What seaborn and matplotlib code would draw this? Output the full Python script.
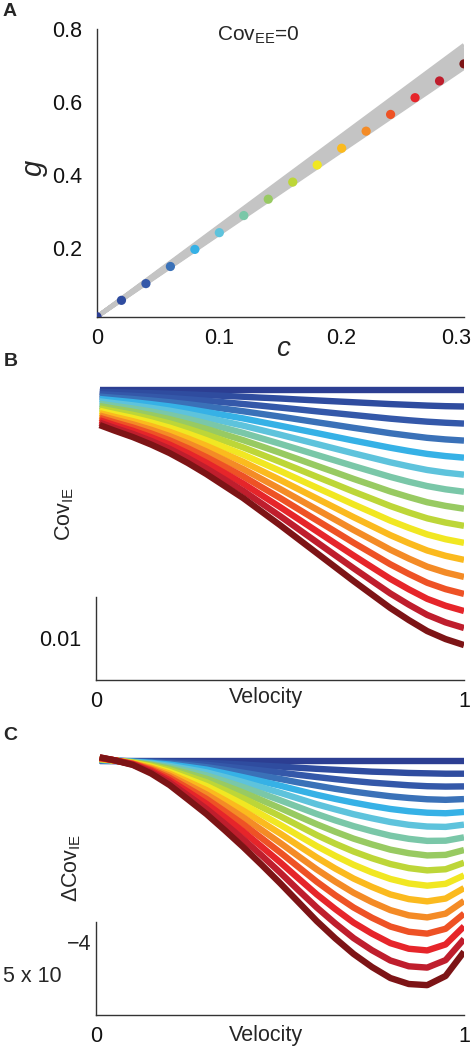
import numpy as np
import pandas as pd
import seaborn as sns
import matplotlib.pyplot as plt
import matplotlib.transforms as mtransforms

# ---- data ----
colors = ["#2c3e92", "#2f4c9f", "#3458a9", "#3a71b8", "#36b1e6", "#5ec3dc",
          "#7ac7a8", "#98ca62", "#bdd638", "#f1e722", "#fbba1e", "#f48b26",
          "#ee5225", "#e6252a", "#bf1e2d", "#7d1416"]

# panel A
c_vals = [0.00, 0.02, 0.04, 0.06, 0.08, 0.10, 0.12, 0.14,
          0.16, 0.18, 0.20, 0.22, 0.24, 0.26, 0.28, 0.30]
g_vals = [0.010, 0.055, 0.101, 0.148, 0.195, 0.241, 0.288, 0.333,
          0.380, 0.427, 0.473, 0.520, 0.566, 0.612, 0.658, 0.705]
band_c = [0.0, 0.3]
band_g_start = 0.01
band_g_end = [0.757, 0.748, 0.742, 0.736, 0.730, 0.724, 0.718, 0.712, 0.706, 0.700, 0.694]

# panel B: Cov_IE (units of 1e-3)
velocity_b = [0.01, 0.05, 0.1, 0.15, 0.2, 0.25, 0.3, 0.35, 0.4, 0.45, 0.5,
              0.55, 0.6, 0.65, 0.7, 0.75, 0.8, 0.85, 0.9, 0.95, 1.0]
cov_ie = [
    [34.86] * 21,
    [34.58, 34.53, 34.48, 34.42, 34.35, 34.27, 34.18, 34.09, 33.99, 33.88, 33.78,
     33.66, 33.55, 33.44, 33.33, 33.22, 33.11, 33.02, 32.93, 32.86, 32.82],
    [34.29, 34.20, 34.10, 33.98, 33.84, 33.68, 33.51, 33.32, 33.12, 32.91, 32.69,
     32.47, 32.24, 32.02, 31.80, 31.58, 31.36, 31.17, 31.00, 30.87, 30.77],
    [34.01, 33.87, 33.72, 33.54, 33.33, 33.09, 32.83, 32.54, 32.25, 31.93, 31.61,
     31.27, 30.93, 30.60, 30.26, 29.94, 29.61, 29.33, 29.06, 28.87, 28.73],
    [33.72, 33.55, 33.34, 33.10, 32.83, 32.51, 32.15, 31.77, 31.39, 30.95, 30.52,
     30.07, 29.63, 29.18, 28.73, 28.30, 27.87, 27.48, 27.13, 26.87, 26.68],
    [33.44, 33.22, 32.96, 32.66, 32.32, 31.92, 31.48, 31.00, 30.52, 29.98, 29.44,
     28.88, 28.32, 27.76, 27.20, 26.66, 26.12, 25.64, 25.20, 24.88, 24.64],
    [33.15, 32.89, 32.58, 32.22, 31.81, 31.33, 30.80, 30.23, 29.65, 29.00, 28.35,
     27.68, 27.01, 26.34, 25.67, 25.02, 24.37, 23.79, 23.27, 22.88, 22.59],
    [32.87, 32.56, 32.20, 31.78, 31.30, 30.74, 30.13, 29.45, 28.78, 28.03, 27.27,
     26.49, 25.70, 24.92, 24.13, 23.38, 22.62, 21.95, 21.33, 20.89, 20.55],
    [32.58, 32.23, 31.82, 31.34, 30.79, 30.15, 29.45, 28.68, 27.91, 27.05, 26.18,
     25.29, 24.39, 23.50, 22.60, 21.74, 20.87, 20.10, 19.40, 18.89, 18.50],
    [32.30, 31.90, 31.44, 30.90, 30.28, 29.56, 28.77, 27.91, 27.04, 26.07, 25.10,
     24.09, 23.08, 22.08, 21.07, 20.10, 19.12, 18.26, 17.47, 16.89, 16.46],
    [32.02, 31.58, 31.06, 30.46, 29.78, 28.98, 28.10, 27.14, 26.18, 25.10, 24.02,
     22.90, 21.78, 20.66, 19.54, 18.46, 17.38, 16.42, 15.54, 14.90, 14.42],
    [31.73, 31.25, 30.68, 30.02, 29.27, 28.39, 27.42, 26.36, 25.31, 24.12, 22.93,
     21.70, 20.47, 19.24, 18.00, 16.82, 15.63, 14.57, 13.60, 12.90, 12.37],
    [31.45, 30.92, 30.30, 29.58, 28.76, 27.80, 26.74, 25.59, 24.44, 23.14, 21.85,
     20.50, 19.16, 17.82, 16.47, 15.18, 13.88, 12.73, 11.67, 10.90, 10.33],
    [31.16, 30.59, 29.91, 29.13, 28.25, 27.21, 26.07, 24.82, 23.57, 22.17, 20.76,
     19.31, 17.85, 16.39, 14.94, 13.53, 12.13, 10.88, 9.74, 8.91, 8.28],
    [30.88, 30.26, 29.53, 28.69, 27.74, 26.62, 25.39, 24.05, 22.70, 21.19, 19.68,
     18.11, 16.54, 14.97, 13.41, 11.89, 10.38, 9.04, 7.81, 6.91, 6.24],
    [30.59, 29.93, 29.15, 28.25, 27.23, 26.03, 24.71, 23.27, 21.83, 20.21, 18.59,
     16.91, 15.23, 13.55, 11.87, 10.25, 8.63, 7.19, 5.87, 4.91, 4.19],
]

# panel C: delta Cov_IE (units of 1e-4)
velocity_c = [0.01, 0.05, 0.1, 0.15, 0.2, 0.25, 0.3, 0.35, 0.4, 0.45, 0.5,
              0.55, 0.6, 0.65, 0.7, 0.75, 0.8, 0.85, 0.9, 0.95, 1.0]
dcov_ie = [
    [0.00] * 21,
    [0.01, 0.00, -0.01, -0.02, -0.04, -0.06, -0.10, -0.14, -0.19, -0.25, -0.30,
     -0.36, -0.42, -0.47, -0.52, -0.57, -0.60, -0.64, -0.66, -0.68, -0.68],
    [0.03, 0.01, -0.02, -0.04, -0.08, -0.14, -0.20, -0.30, -0.40, -0.51, -0.62,
     -0.74, -0.86, -0.97, -1.07, -1.16, -1.23, -1.30, -1.35, -1.37, -1.36],
    [0.04, 0.01, -0.02, -0.07, -0.13, -0.22, -0.33, -0.47, -0.63, -0.79, -0.96,
     -1.15, -1.32, -1.49, -1.64, -1.77, -1.89, -1.98, -2.05, -2.08, -2.04],
    [0.05, 0.02, -0.04, -0.10, -0.19, -0.32, -0.46, -0.66, -0.87, -1.09, -1.32,
     -1.57, -1.81, -2.03, -2.23, -2.41, -2.57, -2.69, -2.77, -2.80, -2.73],
    [0.07, 0.02, -0.05, -0.13, -0.26, -0.43, -0.61, -0.86, -1.13, -1.41, -1.70,
     -2.01, -2.32, -2.59, -2.85, -3.07, -3.27, -3.42, -3.51, -3.53, -3.41],
    [0.08, 0.02, -0.06, -0.17, -0.33, -0.54, -0.77, -1.08, -1.40, -1.74, -2.10,
     -2.47, -2.84, -3.18, -3.49, -3.76, -4.00, -4.17, -4.28, -4.27, -4.09],
    [0.09, 0.03, -0.07, -0.21, -0.41, -0.67, -0.95, -1.31, -1.69, -2.10, -2.52,
     -2.96, -3.39, -3.79, -4.16, -4.47, -4.75, -4.94, -5.06, -5.03, -4.77],
    [0.11, 0.03, -0.09, -0.26, -0.49, -0.81, -1.14, -1.56, -2.00, -2.47, -2.95,
     -3.46, -3.97, -4.43, -4.85, -5.21, -5.52, -5.74, -5.86, -5.80, -5.45],
    [0.12, 0.03, -0.10, -0.31, -0.59, -0.96, -1.34, -1.82, -2.32, -2.86, -3.41,
     -3.99, -4.56, -5.08, -5.56, -5.97, -6.32, -6.56, -6.68, -6.58, -6.13],
    [0.13, 0.03, -0.12, -0.36, -0.68, -1.11, -1.56, -2.10, -2.66, -3.26, -3.88,
     -4.53, -5.17, -5.76, -6.30, -6.75, -7.15, -7.40, -7.52, -7.37, -6.81],
    [0.15, 0.04, -0.14, -0.41, -0.79, -1.28, -1.79, -2.39, -3.02, -3.69, -4.38,
     -5.10, -5.81, -6.46, -7.06, -7.56, -7.99, -8.27, -8.38, -8.18, -7.50],
    [0.16, 0.04, -0.15, -0.47, -0.90, -1.46, -2.03, -2.70, -3.39, -4.13, -4.89,
     -5.68, -6.47, -7.19, -7.85, -8.40, -8.87, -9.15, -9.25, -8.99, -8.18],
    [0.17, 0.04, -0.17, -0.53, -1.03, -1.65, -2.29, -3.02, -3.78, -4.59, -5.42,
     -6.29, -7.15, -7.93, -8.66, -9.25, -9.76, -10.06, -10.15, -9.83, -8.86],
    [0.19, 0.04, -0.19, -0.60, -1.15, -1.85, -2.56, -3.36, -4.19, -5.06, -5.97,
     -6.92, -7.85, -8.70, -9.49, -10.14, -10.69, -11.00, -11.07, -10.67, -9.54],
    [0.20, 0.04, -0.21, -0.67, -1.29, -2.06, -2.84, -3.71, -4.61, -5.56, -6.54,
     -7.56, -8.58, -9.50, -10.34, -11.04, -11.63, -11.95, -12.01, -11.52, -10.22],
]

# ---- build tables ----
levels = [f"c{i}" for i in range(len(colors))]
palette = dict(zip(levels, colors))

dots = pd.DataFrame({"c": c_vals, "g": g_vals, "level": levels})
band = pd.DataFrame([
    {"c": cc, "g": gg, "line": i}
    for i, ge in enumerate(band_g_end)
    for cc, gg in zip(band_c, [band_g_start, ge])
])
df_b = pd.DataFrame([
    {"v": v, "y": y, "level": levels[i]}
    for i, row in enumerate(cov_ie) for v, y in zip(velocity_b, row)
])
df_c = pd.DataFrame([
    {"v": v, "y": y, "level": levels[i]}
    for i, row in enumerate(dcov_ie) for v, y in zip(velocity_c, row)
])

sns.set_theme(style="white")
plt.rcParams["font.family"] = ["Liberation Sans", "DejaVu Sans"]
plt.rcParams["mathtext.fontset"] = "custom"
plt.rcParams["mathtext.rm"] = "Liberation Sans"
plt.rcParams["mathtext.it"] = "Liberation Sans:italic"

W, H = 472, 1051
fig = plt.figure(figsize=(W / 100, H / 100), dpi=100)


def box(left, top, right, bottom):
    return [left / W, 1 - bottom / H, (right - left) / W, (bottom - top) / H]


def ftext(x, y, s, **kw):
    fig.text(x / W, 1 - y / H, s, **kw)


FS = 15.5
spine_col = "#333333"
line_kw = dict(lw=4.6, legend=False, solid_capstyle="butt",
               solid_joinstyle="round", sort=False)

# ---- panel A ----
axA = fig.add_axes(box(97, 29.3, 464, 316.7))
sns.lineplot(data=band, x="c", y="g", units="line", estimator=None,
             color="#c4c4c4", lw=3, ax=axA, solid_capstyle="butt")
sns.scatterplot(data=dots, x="c", y="g", hue="level", palette=palette,
                s=44, linewidth=0, legend=False, ax=axA, zorder=3)
axA.set_xlim(0, 0.3)
axA.set_ylim(0.01, 0.8)
axA.set_xticks([0, 0.1, 0.2, 0.3], ["0", "0.1", "0.2", "0.3"])
axA.set_yticks([0.2, 0.4, 0.6, 0.8], ["0.2", "0.4", "0.6", "0.8"])
axA.set_xlabel("")
axA.set_ylabel("")
ftext(283, 349, "c", fontsize=20, style="italic", ha="center", va="center")
ftext(34, 168, "g", fontsize=21, style="italic", rotation=90, ha="center", va="center")
ftext(217, 41, r"Cov$_{\mathregular{EE}}$=0", fontsize=15, ha="left", va="baseline")

# ---- panel B ----
axB = fig.add_axes(box(96, 383, 464, 680))
sns.lineplot(data=df_b, x="v", y="y", hue="level", palette=palette,
             hue_order=levels, ax=axB, **line_kw)
axB.set_xlim(0, 1)
axB.set_ylim(0, 35.64)
axB.set_xticks([0, 1], ["0", "1"])
axB.set_yticks([5], ["0.01"])
axB.spines["left"].set_bounds(0, 10)
axB.set_xlabel("")
axB.set_ylabel("")
ftext(266, 698, "Velocity", fontsize=FS, ha="center", va="center")
ftext(65, 514, r"Cov$_{\mathregular{IE}}$", fontsize=FS, rotation=90, ha="center", va="center")

# ---- panel C ----
axC = fig.add_axes(box(96, 750, 464, 1015))
sns.lineplot(data=df_c, x="v", y="y", hue="level", palette=palette,
             hue_order=levels, ax=axC, **line_kw)
axC.set_xlim(0, 1)
axC.set_ylim(-13.61, 0.59)
axC.set_xticks([0, 1], ["0", "1"])
axC.set_yticks([])
axC.spines["left"].set_bounds(-13.61, -8.61)
axC.set_xlabel("")
axC.set_ylabel("")
ftext(266, 1036, "Velocity", fontsize=FS, ha="center", va="center")
ftext(72, 868, r"ΔCov$_{\mathregular{IE}}$", fontsize=FS, rotation=90, ha="center", va="center")
ftext(62, 976, "5 x 10", fontsize=FS, ha="right", va="center")
ftext(67, 945, "\u22124", fontsize=FS, ha="left", va="center")

for ax in (axA, axB, axC):
    sns.despine(ax=ax)
    for s in ("left", "bottom"):
        ax.spines[s].set_color(spine_col)
        ax.spines[s].set_linewidth(1.0)
    ax.tick_params(length=0, labelsize=FS, colors="#111111")
    ax.tick_params(axis="x", pad=8)
    ax.tick_params(axis="y", pad=10.5)
    ax.grid(False)

# last x label of panel A sits a little left of its tick, as in the reference
shift = mtransforms.ScaledTranslation(-0.08, 0, fig.dpi_scale_trans)
lab = axA.get_xticklabels()[-1]
lab.set_transform(lab.get_transform() + shift)

# panel letters
ftext(10, 12, "A", fontsize=14, fontweight="bold", ha="center", va="center")
ftext(11, 361, "B", fontsize=14, fontweight="bold", ha="center", va="center")
ftext(10, 736, "C", fontsize=14, fontweight="bold", ha="center", va="center")

fig.savefig("out.png", dpi=100)
